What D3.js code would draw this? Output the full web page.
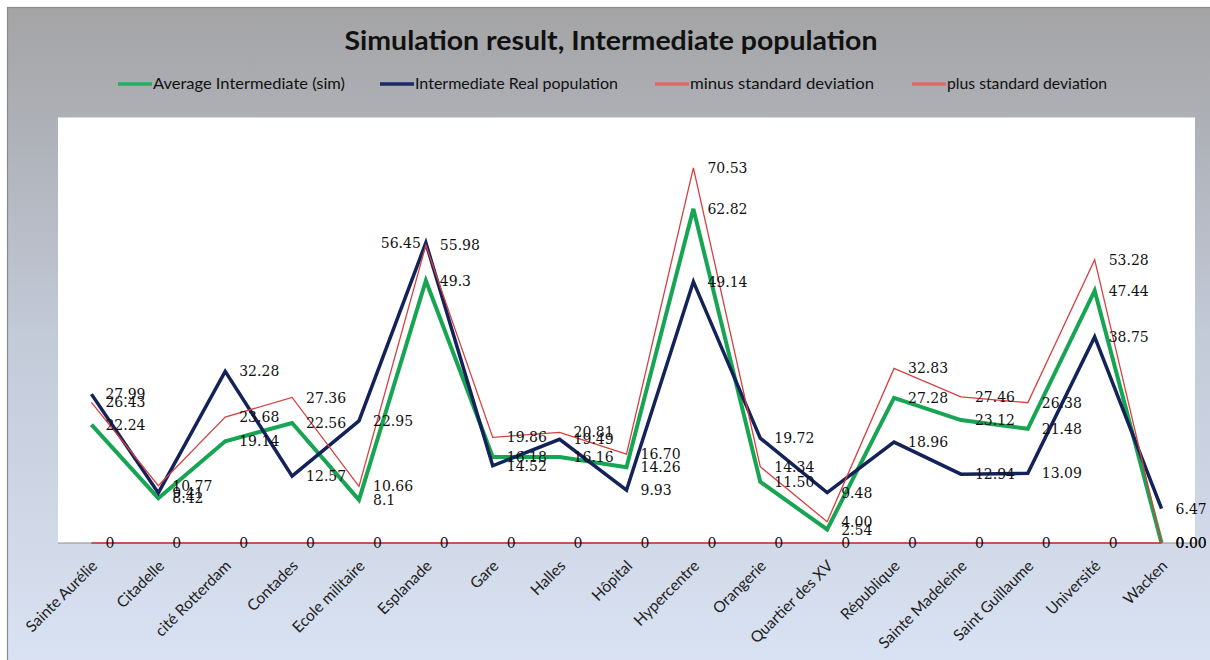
<!DOCTYPE html>
<html><head><meta charset="utf-8">
<script src="https://cdn.jsdelivr.net/npm/d3@7/dist/d3.min.js"></script>
<style>body{margin:0;background:#fff}svg{display:block}</style>
</head><body>
<svg id="c" width="1210" height="660"></svg>
<script>
const categories = ["Sainte Aurélie","Citadelle","cité Rotterdam","Contades","Ecole militaire","Esplanade","Gare","Halles","Hôpital","Hypercentre","Orangerie","Quartier des XV","République","Sainte Madeleine","Saint Guillaume","Université","Wacken"];
const averageSim = ["22.24","8.42","19.14","22.56","8.1","49.3","16.18","16.16","14.26","62.82","11.50","2.54","27.28","23.12","21.48","47.44","0.00"];
const realPop = ["27.99","9.41","32.28","12.57","22.95","56.45","14.52","19.49","9.93","49.14","19.72","9.48","18.96","12.94","13.09","38.75","6.47"];
const minusStd = ["0","0","0","0","0","0","0","0","0","0","0","0","0","0","0","0","0"];
const plusStd = ["26.43","10.77","23.68","27.36","10.66","55.98","19.86","20.81","16.70","70.53","14.34","4.00","32.83","27.46","26.38","53.28","0.00"];
const seriesNames = ["Average Intermediate (sim)","Intermediate Real population","minus  standard deviation","plus standard deviation"];
const yDomain = [0, 80];
const title = "Simulation result, Intermediate population";

const svg = d3.select("#c");
const defs = svg.append("defs");
const grad = defs.append("linearGradient").attr("id","bg").attr("x1",0).attr("y1",0).attr("x2",0).attr("y2",1);
[[0,"#a4a4a5"],[0.2,"#afb2b9"],[0.5,"#c3cad8"],[1,"#dae3f3"]].forEach(([o,c])=>grad.append("stop").attr("offset",o).attr("stop-color",c));
svg.append("rect").attr("x",7.5).attr("y",7.5).attr("width",1210).attr("height",660)
  .attr("fill","url(#bg)").attr("stroke","#8a8a8a").attr("stroke-width",1.2);

const plot = {left:58, right:1195, top:117.5, bottom:543};
svg.append("rect").attr("x",plot.left).attr("y",plot.top).attr("width",plot.right-plot.left).attr("height",plot.bottom-plot.top).attr("fill","#fff");

const x = d3.scaleBand().domain(categories).range([plot.left, plot.right]);
const cx = c => x(c) + x.bandwidth()/2;
const y = d3.scaleLinear().domain(yDomain).range([plot.bottom, plot.top]);

// title
svg.append("text").attr("x",611).attr("y",50).attr("text-anchor","middle")
  .attr("font-family","Lato, 'Open Sans', sans-serif").attr("font-weight","bold").attr("font-size",27)
  .attr("fill","#111").attr("textLength",533).attr("lengthAdjust","spacingAndGlyphs").text(title);

const series = [
  {name:seriesNames[0], vals:averageSim, color:"#18a553", w:4, lg:"#22b060", lx:118, tw:192},
  {name:seriesNames[1], vals:realPop, color:"#14225a", w:3.5, lg:"#1b2a66", lx:380, tw:203},
  {name:seriesNames[2], vals:minusStd, color:"#cc3333", w:1.3, lg:"#e06a6a", lx:655, tw:184},
  {name:seriesNames[3], vals:plusStd, color:"#d64040", w:1.3, lg:"#e06a6a", lx:912, tw:160}
];
// labels drawn on the left of their point (layout choice)
const leftLabel = (si, cat) => si === 1 && cat === "Esplanade";

// legend
series.forEach(s=>{
  svg.append("line").attr("x1",s.lx).attr("x2",s.lx+34).attr("y1",84).attr("y2",84).attr("stroke",s.lg).attr("stroke-width",3.5);
  svg.append("text").attr("x",s.lx+35).attr("y",89).attr("font-family","Lato, 'Open Sans', sans-serif").attr("font-size",15)
    .attr("fill","#111").attr("textLength",s.tw).attr("lengthAdjust","spacingAndGlyphs").text(s.name);
});

// axis
svg.append("line").attr("x1",plot.left).attr("x2",plot.right).attr("y1",plot.bottom).attr("y2",plot.bottom).attr("stroke","#8c8c8c").attr("stroke-width",1.2);

// lines
const line = d3.line().x((d,i)=>cx(categories[i])).y(d=>y(+d));
series.forEach(s=>{
  svg.append("path").datum(s.vals).attr("d",line).attr("fill","none").attr("stroke",s.color).attr("stroke-width",s.w).attr("stroke-linejoin","miter");
});

// data labels
series.forEach((s,si)=>{
  svg.append("g").selectAll("text").data(s.vals).join("text")
    .attr("x",(d,i)=>leftLabel(si,categories[i]) ? cx(categories[i])-5 : cx(categories[i])+14)
    .attr("text-anchor",(d,i)=>leftLabel(si,categories[i]) ? "end" : "start")
    .attr("y",d=>y(+d)).attr("dy","0.36em")
    .attr("font-family","'DejaVu Serif', serif").attr("font-size",14).attr("fill","#111").text(d=>d);
});

// x labels
svg.append("g").selectAll("text").data(categories).join("text")
  .attr("transform",d=>`translate(${cx(d)+3},${plot.bottom+20}) rotate(-45)`)
  .attr("text-anchor","end").attr("dy","0.35em")
  .attr("font-family","Lato, 'Open Sans', sans-serif").attr("font-size",15.5).attr("fill","#222").text(d=>d);
</script>
</body></html>
